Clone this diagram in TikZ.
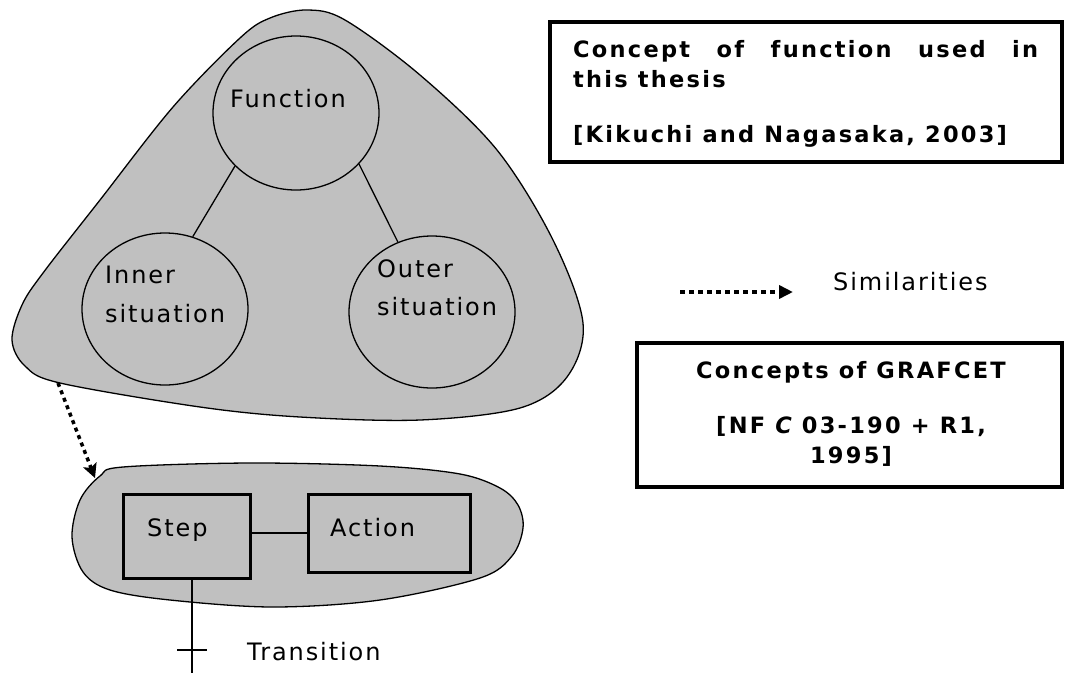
\documentclass[tikz,border=0pt]{standalone}
\usepackage{fontspec}
\setmainfont{DejaVu Sans}
\newfontfamily\lblfont[LetterSpace=8]{DejaVu Sans}
\newfontfamily\boxfont[LetterSpace=10]{DejaVu Sans}
\usetikzlibrary{shapes.geometric,arrows.meta}
\definecolor{blobgray}{RGB}{192,192,192}
\tikzset{
  blob/.style={fill=blobgray,draw=black,line width=1.3pt},
  circ/.style={ellipse,draw=black,line width=1.3pt,inner sep=0pt},
  conn/.style={draw=black,line width=1.3pt},
  gbox/.style={rectangle,draw=black,line width=3pt,inner sep=0pt},
  refbox/.style={rectangle,draw=black,line width=4pt,inner sep=0pt},
  lbl/.style={anchor=base west,inner sep=0pt,font=\lblfont\fontsize{24}{30}\selectfont,align=left},
  btxt/.style={inner sep=0pt,font=\boxfont\bfseries\fontsize{22.5}{30}\selectfont},
  dots/.style={line width=3.5pt,dash pattern=on 4pt off 4pt},
}
\begin{document}
\begin{tikzpicture}[x=1pt,y=-1pt]
\useasboundingbox (0,0) rectangle (1081,673);
% upper blob
\draw[blob] plot[smooth cycle,tension=0.55] coordinates {
 (307,10) (345,20) (420,75) (497,150) (553,240) (583,323) (567,377) (520,408)
 (420,420) (300,417) (200,407) (60,383) (25,366) (12,340) (22,305) (43,273)
 (100,200) (173,107) (240,38) (270,18)};
% lower blob
\draw[blob] plot[smooth cycle,tension=0.55] coordinates {
 (72,537) (80,500) (100,476) (123,467) (250,463) (380,466) (460,474) (500,488)
 (518,505) (523,528) (512,556) (480,578) (380,600) (273,607) (170,600) (110,590) (83,572)};
% circles
\node[circ,minimum width=166pt,minimum height=154pt] (F) at (296,113) {};
\node[circ,minimum width=166pt,minimum height=152pt] (I) at (165,309) {};
\node[circ,minimum width=166pt,minimum height=152pt] (O) at (432,312) {};
\draw[conn] (F.221) -- (I.69);
\draw[conn] (F.321) -- (O.116);
\node[lbl] (Ft) at (230,107) {Function};
\node[lbl] (It) at (105,322) {Inner\\[9pt]situation};
\node[lbl] (Ot) at (377,315) {Outer\\[8pt]situation};
% GRAFCET
\node[gbox,minimum width=127pt,minimum height=84pt] (Step) at (186.5,536) {};
\node[gbox,minimum width=162pt,minimum height=78pt] (Action) at (389,533) {};
\draw[conn] (Step.east |- Action.west) -- (Action.west);
\node[lbl] (St) at (147,536) {Step};
\node[lbl] (At) at (330,536) {Action};
\coordinate (tt) at (192,650);
\coordinate (tend) at (192,673);
\draw[conn] (tt |- Step.south) -- (tend);
\draw[conn] ([xshift=-15pt]tt) -- ([xshift=15pt]tt);
\node[lbl] (Tt) at (247,660) {Transition};
% similarity arrow
\coordinate (s1) at (58,383);
\coordinate (s2) at (95,478);
\draw[dots,-{Stealth[length=14pt,width=14pt,inset=3pt]}] (s1) -- (s2);
\coordinate (l1) at (680,292);
\coordinate (l2) at (793,292);
\draw[line width=3.5pt,dash pattern=on 5pt off 4pt,-{Triangle[length=14pt,width=13pt]}] (l1) -- (l2);
\node[lbl] (Sim) at (833,290) {Similarities};
% reference boxes
\node[refbox,minimum width=512pt,minimum height=140pt] (B1) at (806,92) {};
\node[btxt,anchor=base west,align=left] (B1t) at (573,142)
 {\makebox[465pt][s]{Concept of function used in}\\this thesis\\[25pt][Kikuchi and Nagasaka, 2003]};
\node[refbox,minimum width=425pt,minimum height=144pt] (B2) at (849.5,415) {};
\node[btxt,anchor=base,align=center] (B2t) at (851,463)
 {Concepts of GRAFCET\\[25pt][NF {\itshape C} 03-190 + R1,\\1995]};
\end{tikzpicture}
\end{document}
